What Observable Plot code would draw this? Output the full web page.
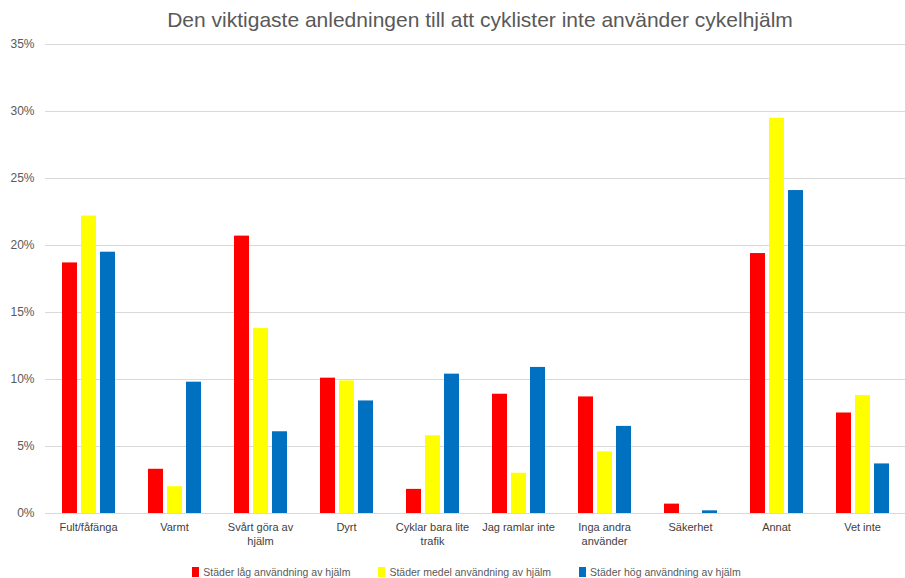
<!DOCTYPE html>
<html><head><meta charset="utf-8">
<script src="https://cdn.jsdelivr.net/npm/d3@7"></script>
<script src="https://cdn.jsdelivr.net/npm/@observablehq/plot@0.6"></script>
<style>
body{margin:0;background:#fff;width:905px;height:578px;overflow:hidden;}
#title{height:34px;line-height:40px;text-align:center;font-family:"Liberation Sans Narrow","Liberation Sans",sans-serif;font-size:21px;color:#595959;padding-left:55px;box-sizing:border-box;}
#chart svg{display:block;}
#legend{display:flex;justify-content:center;align-items:center;height:14px;margin-top:7px;padding-left:28px;font-family:"Liberation Sans Narrow","Liberation Sans",sans-serif;font-size:10.5px;color:#595959;}
.item{display:flex;align-items:center;margin:0 14px;}
.sw{width:7px;height:10px;margin-right:4px;}
</style></head><body>
<div id="title">Den viktigaste anledningen till att cyklister inte använder cykelhjälm</div>
<div id="chart"></div>
<div id="legend"></div>
<script>
const categories = ["Fult/fåfänga","Varmt","Svårt göra av hjälm","Dyrt","Cyklar bara lite trafik","Jag ramlar inte","Inga andra använder","Säkerhet","Annat","Vet inte"];
const tickLabels = ["Fult/fåfänga","Varmt","Svårt göra av\nhjälm","Dyrt","Cyklar bara lite\ntrafik","Jag ramlar inte","Inga andra\nanvänder","Säkerhet","Annat","Vet inte"];
const seriesNames = ["Städer låg användning av hjälm","Städer medel användning av hjälm","Städer hög användning av hjälm"];
const lowValues  = [0.187,0.033,0.207,0.101,0.018,0.089,0.087,0.007,0.194,0.075];
const medValues  = [0.222,0.020,0.138,0.099,0.058,0.030,0.046,0.000,0.295,0.088];
const highValues = [0.195,0.098,0.061,0.084,0.104,0.109,0.065,0.002,0.241,0.037];
const yTicks = [0,0.05,0.10,0.15,0.20,0.25,0.30,0.35];
const colors = ["#ff0000","#ffff00","#0070c0"];

const seriesValues = [lowValues, medValues, highValues];
const data = [];
categories.forEach((c, i) => seriesNames.forEach((s, j) => data.push({category: c, series: s, value: seriesValues[j][i]})));
const labelOf = new Map(categories.map((c, i) => [c, tickLabels[i]]));

const chart = Plot.plot({
  width: 905,
  height: 524,
  marginTop: 10,
  marginBottom: 45,
  marginLeft: 44,
  marginRight: 0,
  style: {fontFamily: "'Liberation Sans', sans-serif", background: "#fff"},
  fx: {domain: categories, padding: 0, label: null},
  x: {domain: seriesNames, axis: null, paddingInner: 0.223, paddingOuter: 0.845},
  y: {domain: [0, 0.35], label: null},
  color: {domain: seriesNames, range: colors},
  marks: [
    Plot.ruleY(yTicks, {stroke: "#d9d9d9", strokeWidth: 1.2}),
    Plot.barY(data, {fx: "category", x: "series", y: "value", fill: "series"}),
    Plot.axisY({ticks: yTicks, tickFormat: d => Math.round(d * 100) + "%", tickSize: 0, tickPadding: 11, fontSize: 12, fill: "#595959", label: null}),
    Plot.axisFx({anchor: "bottom", tickFormat: d => labelOf.get(d), tickSize: 0, tickPadding: 8, fontSize: 11, lineHeight: 1.25, fill: "#404040", fontFamily: "'Liberation Sans Narrow', 'Liberation Sans', sans-serif", label: null})
  ]
});
document.getElementById("chart").appendChild(chart);

const legend = document.getElementById("legend");
seriesNames.forEach((s, i) => {
  const item = document.createElement("div");
  item.className = "item";
  const sw = document.createElement("span");
  sw.className = "sw";
  sw.style.background = colors[i];
  const tx = document.createElement("span");
  tx.textContent = s;
  item.appendChild(sw);
  item.appendChild(tx);
  legend.appendChild(item);
});
</script>
</body></html>
